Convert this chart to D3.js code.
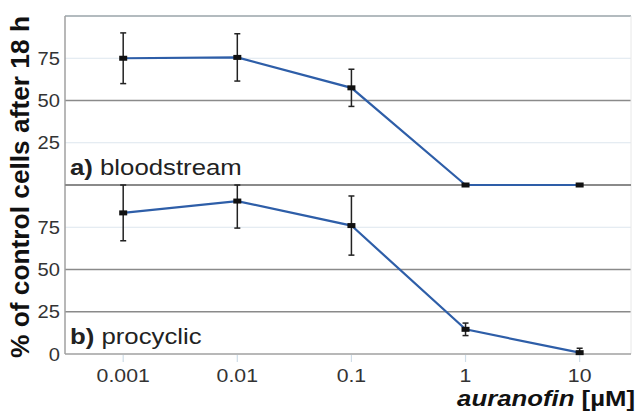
<!DOCTYPE html>
<html>
  <head>
    <script src="https://d3js.org/d3.v7.min.js"></script>
    <style>
      body { margin: 0; background: #fff; }
      text { font-family: "Liberation Sans", Arial, sans-serif; }
    </style>
  </head>
  <body>
    <div id="chart"></div>
    <script>
      // concentrations (µM)
      const doses = [0.001, 0.01, 0.1, 1, 10];
      const doseLabels = ["0.001", "0.01", "0.1", "1", "10"];

      // a) bloodstream
      const bloodMean = [75, 75.5, 57.5, 0, 0];
      const bloodErr = [15, 14, 11, 0, 0];

      // b) procyclic
      const procMean = [83.5, 90.5, 76, 14.6, 0.8];
      const procErr = [16.5, 16, 17.5, 3.7, 2.6];

      const yTicksA = [25, 50, 75];
      const yTicksB = [0, 25, 50, 75];

      const W = 637, H = 412;
      const left = 65, right = 631;
      const topA = 16, mid = 185, bottom = 354;
      const sx = 1.12; // the original type is a bit wide

      const svg = d3.select("#chart").append("svg")
        .attr("width", W).attr("height", H);

      const x = d3.scaleLog().domain([Math.pow(10, -3.51), Math.pow(10, 1.45)]).range([left, right]);
      const yA = d3.scaleLinear().domain([0, 100]).range([mid, topA]);
      const yB = d3.scaleLinear().domain([0, 100]).range([bottom, mid]);

      // gridlines
      function grid(y, ticks, darkSet) {
        ticks.filter(t => t > 0).forEach(t => {
          svg.append("line")
            .attr("x1", left).attr("x2", right)
            .attr("y1", y(t)).attr("y2", y(t))
            .attr("stroke", darkSet.includes(t) ? "#8a8a8a" : "#dde6ee")
            .attr("stroke-width", darkSet.includes(t) ? 1.5 : 1.2);
        });
      }
      grid(yA, yTicksA, [50]);
      grid(yB, yTicksB, [25, 50]);

      // frame
      svg.append("line").attr("x1", left).attr("x2", right).attr("y1", topA).attr("y2", topA)
        .attr("stroke", "#9aa4aa").attr("stroke-width", 1.5);
      svg.append("line").attr("x1", left).attr("x2", left).attr("y1", topA).attr("y2", bottom)
        .attr("stroke", "#a0a0a0").attr("stroke-width", 1.5);
      svg.append("line").attr("x1", right).attr("x2", right).attr("y1", topA).attr("y2", bottom)
        .attr("stroke", "#e8e8e8").attr("stroke-width", 1);
      svg.append("line").attr("x1", left).attr("x2", right).attr("y1", mid).attr("y2", mid)
        .attr("stroke", "#8a8a8a").attr("stroke-width", 1.8);
      svg.append("line").attr("x1", left).attr("x2", right).attr("y1", bottom).attr("y2", bottom)
        .attr("stroke", "#a0a0a0").attr("stroke-width", 1.5);

      // x ticks
      svg.selectAll(".xt").data(doses).enter().append("line")
        .attr("x1", d => x(d)).attr("x2", d => x(d))
        .attr("y1", bottom + 1).attr("y2", bottom + 8)
        .attr("stroke", "#cfdde8").attr("stroke-width", 1.2);
      svg.selectAll(".xl").data(doses).enter().append("text")
        .attr("transform", d => `translate(${x(d)},382) scale(${sx},1)`)
        .attr("text-anchor", "middle")
        .attr("font-size", 19).attr("fill", "#333")
        .text((d, i) => doseLabels[i]);

      // y tick labels
      function yLabels(y, ticks) {
        svg.selectAll(null).data(ticks).enter().append("text")
          .attr("transform", d => `translate(60,${y(d) + 6.5}) scale(${sx},1)`)
          .attr("text-anchor", "end")
          .attr("font-size", 18).attr("fill", "#333")
          .text(d => d);
      }
      yLabels(yA, yTicksA);
      yLabels(yB, yTicksB);

      // series
      function series(y, mean, err) {
        const pts = doses.map((d, i) => ({ d, m: mean[i], e: err[i] }));
        const line = d3.line().x(p => x(p.d)).y(p => y(p.m));
        svg.append("path").datum(pts).attr("d", line)
          .attr("fill", "none").attr("stroke", "#2e5ea8").attr("stroke-width", 2.2);
        pts.filter(p => p.e > 0).forEach(p => {
          const lo = Math.max(0, p.m - p.e), hi = Math.min(100, p.m + p.e);
          const g = svg.append("g").attr("stroke", "#222").attr("stroke-width", 1.5);
          g.append("line").attr("x1", x(p.d)).attr("x2", x(p.d)).attr("y1", y(lo)).attr("y2", y(hi));
          g.append("line").attr("x1", x(p.d) - 3).attr("x2", x(p.d) + 3).attr("y1", y(hi)).attr("y2", y(hi));
          if (p.m - p.e > 0)
            g.append("line").attr("x1", x(p.d) - 3).attr("x2", x(p.d) + 3).attr("y1", y(lo)).attr("y2", y(lo));
        });
        svg.selectAll(null).data(pts).enter().append("rect")
          .attr("x", p => x(p.d) - 4).attr("y", p => y(p.m) - 2.5)
          .attr("width", 8).attr("height", 5).attr("fill", "#111");
      }
      series(yA, bloodMean, bloodErr);
      series(yB, procMean, procErr);

      // panel labels
      const la = svg.append("text").attr("transform", `translate(70,175) scale(${sx},1)`)
        .attr("font-size", 23).attr("fill", "#222");
      la.append("tspan").attr("font-weight", "bold").text("a)");
      la.append("tspan").text(" bloodstream");
      const lb = svg.append("text").attr("transform", `translate(70,344) scale(${sx},1)`)
        .attr("font-size", 23).attr("fill", "#222");
      lb.append("tspan").attr("font-weight", "bold").text("b)");
      lb.append("tspan").text(" procyclic");

      // y title
      svg.append("text")
        .attr("transform", "translate(29,187) rotate(-90)")
        .attr("text-anchor", "middle")
        .attr("font-size", 25).attr("font-weight", "bold").attr("fill", "#111")
        .attr("textLength", 342).attr("lengthAdjust", "spacingAndGlyphs")
        .text("% of control cells after 18 h");

      // x title
      const xt = svg.append("text").attr("transform", `translate(635,406) scale(${sx},1)`)
        .attr("text-anchor", "end").attr("font-size", 23).attr("font-weight", "bold").attr("fill", "#111");
      xt.append("tspan").attr("font-style", "italic").text("auranofin");
      xt.append("tspan").text(" [\u00b5M]");
    </script>
  </body>
</html>
